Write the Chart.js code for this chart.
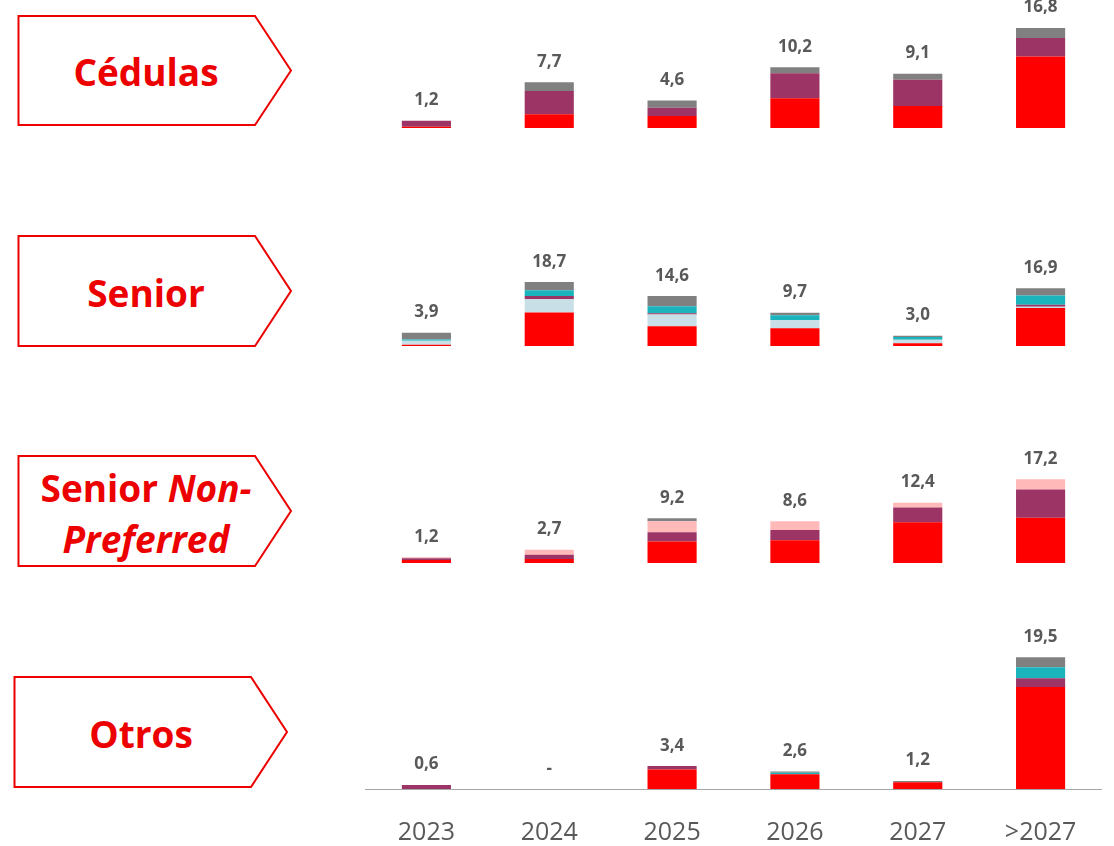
<!DOCTYPE html>
<html>
<head>
<meta charset="utf-8">
<script src="https://cdn.jsdelivr.net/npm/chart.js@4.4.1/dist/chart.umd.min.js"></script>
<style>
  body { margin: 0; width: 1114px; height: 846px; position: relative; background: #fff; overflow: hidden; }
  .panel { position: absolute; left: 365px; width: 737px; }
  svg.tags { position: absolute; left: 0; top: 0; }
  svg.tags text { font-family: "Open Sans", sans-serif; font-weight: 700; font-size: 37px; fill: #EC0000; }
</style>
</head>
<body>
<svg class="tags" width="300" height="846">
  <g fill="#fff" stroke="#EC0000" stroke-width="2">
    <path d="M18.5,16 H255 L291,70.5 L255,125 H18.5 Z"/>
    <path d="M18.5,236 H255 L291,291 L255,346 H18.5 Z"/>
    <path d="M18.5,456 H255 L291,511 L255,566 H18.5 Z"/>
    <path d="M14.5,677 H251 L287,732 L251,787 H14.5 Z"/>
  </g>
  <text x="146" y="71" text-anchor="middle" dominant-baseline="central">Cédulas</text>
  <text x="146" y="292" text-anchor="middle" dominant-baseline="central">Senior</text>
  <text x="146" y="487" text-anchor="middle" dominant-baseline="central">Senior <tspan font-style="italic">Non-</tspan></text>
  <text x="146" y="538" text-anchor="middle" dominant-baseline="central" font-style="italic">Preferred</text>
  <text x="141" y="733" text-anchor="middle" dominant-baseline="central">Otros</text>
</svg>
<div class="panel" style="top:0px;height:128px"><canvas id="cedulasChart"></canvas></div>
<div class="panel" style="top:200px;height:146px"><canvas id="seniorChart"></canvas></div>
<div class="panel" style="top:420px;height:143px"><canvas id="snpChart"></canvas></div>
<div class="panel" style="top:620px;height:226px"><canvas id="otrosChart"></canvas></div>
<script>
const categories = ["2023", "2024", "2025", "2026", "2027", ">2027"];
const seriesColors = ["#FF0000", "#C8DFE7", "#9C3565", "#FFB9B9", "#1BB3BC", "#808080"];

// Cédulas
const cedulasRed = [0.2, 2.3, 2.0, 5.0, 3.7, 12.0];
const cedulasLightBlue = [0, 0, 0, 0, 0, 0];
const cedulasMagenta = [1.0, 3.9, 1.4, 4.2, 4.4, 3.1];
const cedulasPink = [0, 0, 0, 0, 0, 0];
const cedulasTeal = [0, 0, 0, 0, 0, 0];
const cedulasGrey = [0, 1.5, 1.2, 1.0, 1.0, 1.7];

// Senior
const seniorRed = [0.4, 9.8, 5.8, 5.2, 0.8, 11.1];
const seniorLightBlue = [1.1, 3.9, 3.4, 2.3, 1.0, 0.4];
const seniorMagenta = [0, 0.9, 0.4, 0, 0, 0.6];
const seniorPink = [0, 0, 0, 0, 0, 0];
const seniorTeal = [0.4, 1.7, 2.0, 1.5, 0.8, 2.7];
const seniorGrey = [2.0, 2.4, 3.0, 0.7, 0.4, 2.1];

// Senior Non-Preferred
const snpRed = [0.6, 0.8, 4.4, 4.7, 8.4, 9.3];
const snpLightBlue = [0, 0, 0, 0, 0, 0];
const snpMagenta = [0.4, 0.9, 1.9, 2.1, 3.0, 5.8];
const snpPink = [0.2, 1.0, 2.3, 1.8, 1.0, 2.1];
const snpTeal = [0, 0, 0, 0, 0, 0];
const snpGrey = [0, 0, 0.6, 0, 0, 0];

// Otros
const otrosRed = [0, 0, 2.9, 2.2, 1.0, 15.1];
const otrosLightBlue = [0, 0, 0, 0, 0, 0];
const otrosMagenta = [0.6, 0, 0.5, 0, 0, 1.3];
const otrosPink = [0, 0, 0, 0, 0, 0];
const otrosTeal = [0, 0, 0, 0.2, 0, 1.6];
const otrosGrey = [0, 0, 0, 0.2, 0.2, 1.5];

// suma encima de cada barra
const totalsPlugin = {
    id: "totals",
    afterDatasetsDraw(chart) {
        const ctx = chart.ctx;
        const yScale = chart.scales.y;
        const meta = chart.getDatasetMeta(0);
        ctx.save();
        ctx.font = 'bold 17px "Open Sans"';
        ctx.fillStyle = "#595959";
        ctx.textAlign = "center";
        ctx.textBaseline = "alphabetic";
        chart.data.labels.forEach(function (_, i) {
            let sum = 0;
            chart.data.datasets.forEach(ds => sum += ds.data[i]);
            sum = Math.round(sum * 10) / 10;
            const y = yScale.getPixelForValue(sum) - 15.5;
            ctx.fillText(sum > 0 ? sum.toFixed(1).replace(".", ",") : "-", meta.data[i].x, y);
        });
        ctx.restore();
    }
};

function makeChart(id, series, yMax, showLabels) {
    const xAxis = {
        stacked: true,
        grid: { display: false, drawTicks: false },
        border: { display: true, color: "#A6A6A6", width: 1 },
        ticks: { display: showLabels, color: "#595959", padding: 29, font: { family: "Open Sans", size: 25 } }
    };
    if (showLabels) {
        xAxis.afterFit = function (scale) {
            scale.height = 57;
            scale.paddingLeft = 0;
            scale.paddingRight = 0;
        };
    }
    new Chart(document.getElementById(id).getContext("2d"), {
        type: "bar",
        data: {
            labels: categories,
            datasets: series.map((d, k) => ({
                data: d,
                backgroundColor: seriesColors[k],
                borderWidth: 0,
                barPercentage: 0.4,
                categoryPercentage: 1
            }))
        },
        options: {
            responsive: true,
            maintainAspectRatio: false,
            animation: false,
            layout: { padding: 0 },
            plugins: { legend: { display: false }, tooltip: { enabled: false } },
            scales: {
                x: xAxis,
                y: { stacked: true, display: false, min: 0, max: yMax }
            }
        },
        plugins: [totalsPlugin]
    });
}

makeChart("cedulasChart", [cedulasRed, cedulasLightBlue, cedulasMagenta, cedulasPink, cedulasTeal, cedulasGrey], 21.5, false);
makeChart("seniorChart", [seniorRed, seniorLightBlue, seniorMagenta, seniorPink, seniorTeal, seniorGrey], 42.7, false);
makeChart("snpChart", [snpRed, snpLightBlue, snpMagenta, snpPink, snpTeal, snpGrey], 29.4, false);
makeChart("otrosChart", [otrosRed, otrosLightBlue, otrosMagenta, otrosPink, otrosTeal, otrosGrey], 25.0, true);
</script>
</body>
</html>
